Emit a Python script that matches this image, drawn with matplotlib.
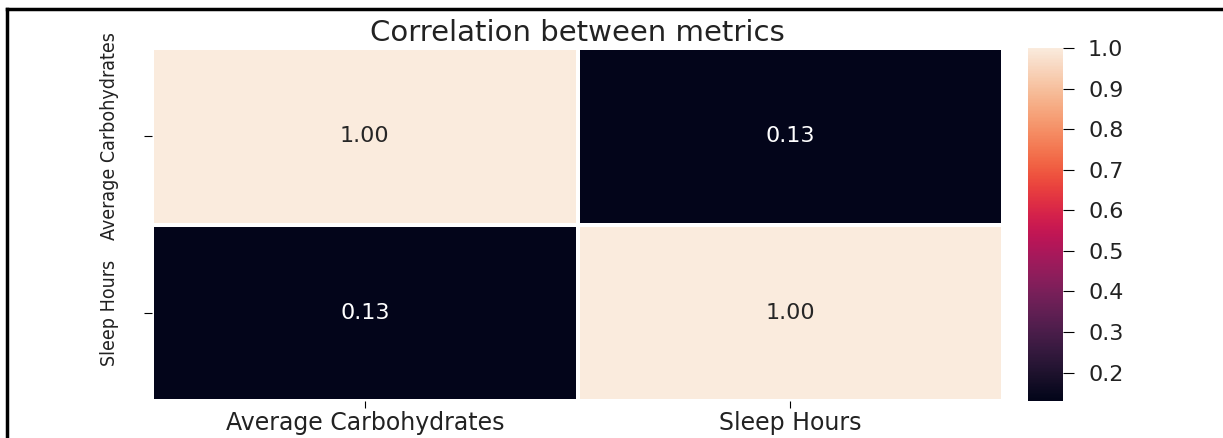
import numpy as np
import pandas as pd
import matplotlib
matplotlib.use("Agg")
import matplotlib.pyplot as plt
from matplotlib.lines import Line2D
import seaborn as sns

METRICS = ["Average Carbohydrates", "Sleep Hours"]
ROW_CARBS = [1.00, 0.13]
ROW_SLEEP = [0.13, 1.00]
CBAR_TICKS = [0.2, 0.3, 0.4, 0.5, 0.6, 0.7, 0.8, 0.9, 1.0]

corr = pd.DataFrame([ROW_CARBS, ROW_SLEEP], index=METRICS, columns=METRICS)

fig = plt.figure(figsize=(12.23, 4.38), dpi=100)
ax = fig.add_axes([152 / 1223, 1 - 401 / 438, (1003 - 152) / 1223, 353 / 438])
cax = fig.add_axes([1028 / 1223, 1 - 401 / 438, 35 / 1223, 353 / 438])

sns.heatmap(corr, annot=True, fmt=".2f", cmap="rocket", ax=ax, cbar_ax=cax,
            linewidths=1.5, linecolor="white",
            annot_kws={"fontsize": 16})

ax.set_title("Correlation between metrics", fontsize=21, pad=5, color="#222222")
ax.tick_params(axis="x", labelsize=17, labelcolor="#222222", rotation=0,
               length=5, pad=2)
ax.tick_params(axis="y", labelsize=14, labelcolor="#222222", length=6, pad=18)
for lbl in ax.get_yticklabels():
    lbl.set_fontstretch("condensed")
    lbl.set_rotation(90)
    lbl.set_va("center")

cax.set_yticks(CBAR_TICKS)
cax.tick_params(labelsize=16, labelcolor="#222222", length=8, pad=10)

# frame lines on top and left edge of the picture
fig.add_artist(Line2D([7 / 1223, 1], [1 - 9 / 438, 1 - 9 / 438],
                      transform=fig.transFigure, color="black", lw=2.5))
fig.add_artist(Line2D([7 / 1223, 7 / 1223], [0, 1 - 9 / 438],
                      transform=fig.transFigure, color="black", lw=2.5))

fig.savefig("out.png", dpi=100)
